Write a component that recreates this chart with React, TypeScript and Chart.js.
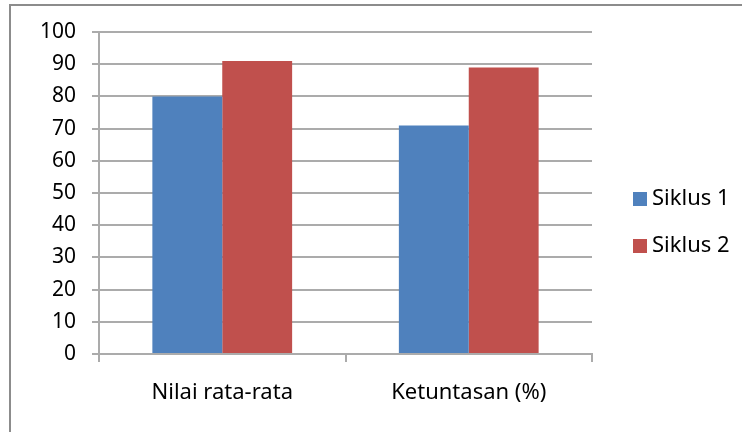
import React, { useEffect, useRef } from "react";
import { Chart, registerables } from "chart.js";

Chart.register(...registerables);

const categories = ["Nilai rata-rata", "Ketuntasan (%)"];
const seriesNames = ["Siklus 1", "Siklus 2"];
const siklus1 = [80, 71];
const siklus2 = [91, 89];
const yTicks = [0, 10, 20, 30, 40, 50, 60, 70, 80, 90, 100];

const COLORS = ["#4F81BD", "#C0504D"];
const FONT = "'Noto Sans', Lato, sans-serif";
const GRID = "#ababab";

const legendPlugin = {
  id: "customLegend",
  afterDraw(chart: any) {
    const ctx = chart.ctx;
    const area = chart.chartArea;
    ctx.save();
    chart.data.datasets.forEach((ds: any, i: number) => {
      const x = area.right + 41;
      const cy = 199 + i * 47;
      ctx.fillStyle = ds.backgroundColor;
      ctx.fillRect(x, cy - 7, 14, 14);
      ctx.fillStyle = "#000";
      ctx.font = `22px ${FONT}`;
      ctx.textBaseline = "middle";
      ctx.textAlign = "left";
      ctx.fillText(ds.label, x + 19, cy);
    });
    ctx.restore();
  },
};

export default function App() {
  const ref = useRef<HTMLCanvasElement>(null);
  useEffect(() => {
    if (!ref.current) return;
    const chart = new Chart(ref.current, {
      type: "bar",
      data: {
        labels: categories,
        datasets: [
          { label: seriesNames[0], data: siklus1, backgroundColor: COLORS[0] },
          { label: seriesNames[1], data: siklus2, backgroundColor: COLORS[1] },
        ],
      },
      options: {
        responsive: false,
        animation: false,
        layout: { padding: { left: 38, right: 150, top: 32, bottom: 0 } },
        datasets: { bar: { barPercentage: 1, categoryPercentage: 0.567 } },
        plugins: { legend: { display: false }, tooltip: { enabled: false } },
        scales: {
          x: {
            afterFit: (s: any) => { s.height = 78; },
            grid: { offset: true, drawOnChartArea: false, drawTicks: true, tickLength: 8, color: GRID, lineWidth: 2 },
            border: { display: true, color: GRID, width: 2 },
            ticks: { color: "#000", font: { family: FONT, size: 22 }, padding: 18 },
          },
          y: {
            min: 0,
            max: 100,
            afterFit: (s: any) => { s.width = 61; },
            afterBuildTicks: (s: any) => { s.ticks = yTicks.map((v) => ({ value: v })); },
            grid: { color: GRID, lineWidth: 2, tickLength: 7 },
            border: { display: true, color: GRID, width: 2 },
            ticks: { color: "#000", font: { family: FONT, size: 21 }, padding: 16 },
          },
        },
      },
      plugins: [legendPlugin],
    });
    return () => chart.destroy();
  }, []);
  return (
    <div style={{ position: "absolute", left: 0, top: 0, width: 742, height: 432, background: "#fff", overflow: "hidden" }}>
      <canvas ref={ref} width={742} height={432} style={{ position: "absolute", left: 0, top: 0 }} />
      <div style={{ position: "absolute", left: 9, top: 4, width: 800, height: 500, borderLeft: "2px solid #8c8c8c", borderTop: "2px solid #8c8c8c" }} />
    </div>
  );
}
